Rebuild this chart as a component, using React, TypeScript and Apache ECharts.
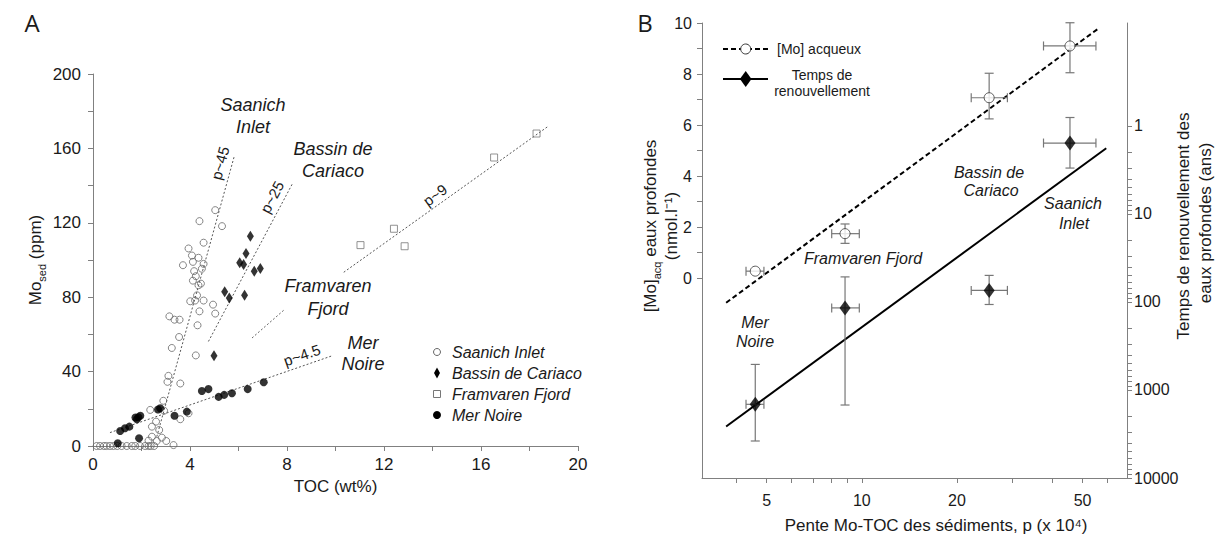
import React, { useEffect, useRef } from 'react';
import * as echarts from 'echarts';

// ---------------- Panel A data (TOC wt%, Mo ppm) ----------------
const saanich: [number, number][] = [
  [5.04, 126.8], [4.39, 120.9], [5.32, 118.2], [4.56, 109.3], [3.94, 106.2], [4.08, 102.4],
  [4.35, 101.2], [4.12, 99.0], [3.71, 97.2], [4.56, 97.9], [4.49, 95.3], [4.17, 94.0],
  [4.24, 91.3], [4.12, 88.9], [4.45, 87.3], [4.35, 86.4], [4.29, 81.0], [4.01, 77.8],
  [4.21, 78.2], [4.56, 78.2], [4.95, 76.0], [4.39, 72.4], [5.04, 71.2], [3.15, 69.7],
  [3.36, 67.9], [3.57, 67.9], [4.31, 64.9], [3.55, 58.6], [3.25, 52.7], [4.24, 48.7],
  [3.11, 37.7], [3.07, 34.5], [3.60, 33.6], [2.90, 24.3], [2.36, 19.4], [2.93, 19.0],
  [2.60, 13.1], [2.43, 10.4], [3.60, 14.4], [3.94, 17.6], [2.73, 8.6], [2.43, 5.0],
  [2.84, 4.5], [2.29, 2.9], [2.63, 2.7], [3.02, 2.7], [3.32, 0.5],
  [0.15, 0], [0.29, 0], [0.45, 0], [0.56, 0], [0.70, 0], [0.84, 0], [1.00, 0], [1.18, 0],
  [1.39, 0], [1.60, 0], [1.74, 0], [1.94, 0], [2.15, 0], [2.29, 0], [2.38, 0], [2.52, 0],
];
const cariaco: [number, number][] = [
  [6.49, 112.8], [6.31, 103.5], [6.05, 98.5], [6.21, 97.6], [6.65, 94.0], [6.90, 95.4],
  [5.43, 82.9], [5.62, 79.6], [6.25, 81.0], [4.99, 48.5],
];
const framvaren: [number, number][] = [
  [11.03, 108], [12.41, 116.8], [12.85, 107.4], [16.54, 155.1], [18.29, 168],
];
const merNoire: [number, number][] = [
  [7.04, 34.3], [6.38, 30.6], [5.73, 28.4], [5.41, 27.5], [5.18, 26.4], [4.76, 30.6],
  [4.49, 29.6], [3.87, 18.5], [3.36, 16.3], [2.77, 20.3], [2.68, 19.6], [1.95, 16.3],
  [1.87, 15.5], [1.81, 14.4], [1.75, 15.3], [1.50, 10.4], [1.32, 9.5], [1.12, 8.1],
  [1.90, 4.2], [1.02, 1.5],
];
const saanichFit: [number, number][] = [[2.63, 5], [5.83, 156]];
const cariacoFit: [number, number][] = [[4.76, 56.2], [8.21, 140.7]];
const framvarenFit: [number, number][] = [[10.34, 93.4], [18.75, 171.7]];
const merNoireFit: [number, number][] = [[0.7, 7.2], [9.86, 48.5]];

// ---------------- Panel B data ----------------
const slopeP = [4.6, 8.85, 25.3, 45.6];
const slopeLo = [4.3, 8.03, 22.2, 37.6];
const slopeHi = [4.9, 9.82, 28.9, 55.1];
const moAq = [0.27, 1.74, 7.07, 9.1];
const moAqLo = [0.27, 1.36, 6.24, 8.05];
const moAqHi = [0.27, 2.12, 8.03, 10.01];
const turnover = [1456, 117, 74, 1.57];
const turnoverLo = [513, 52, 50, 0.805];
const turnoverHi = [3800, 1483, 107, 3.02];
const moFit: [number, number][] = [[3.72, -0.97], [56.6, 9.82]];
const turnFit: [number, number][] = [[3.72, 2600], [59.4, 1.8]];

const xTicksB = [4, 5, 6, 7, 8, 9, 10, 20, 30, 40, 50, 60];
const xLabelsB = [5, 10, 20, 50];
const moTicks = [0, 1, 2, 3, 4, 5, 6, 7, 8, 9, 10];
const moLabels = [0, 2, 4, 6, 8, 10];
const turnDecades = [1, 10, 100, 1000];
const turnLabels = [1, 10, 100, 1000, 10000];

const FF = '"Liberation Sans", Arial, Helvetica, sans-serif';
const TXT = '#1a1a1a';
const AX = '#808080';
const lg = (v: number) => Math.log10(v);

function errRender(params: any, api: any) {
  const x = api.value(0), y = api.value(1);
  const xl = api.value(2), xh = api.value(3), yl = api.value(4), yh = api.value(5);
  const a = api.coord([xl, y]), b = api.coord([xh, y]);
  const t = api.coord([x, yl]), u = api.coord([x, yh]);
  const style = { stroke: '#777', lineWidth: 1.2, fill: 'none' };
  const cap = 4.5;
  const children: any[] = [
    { type: 'line', shape: { x1: a[0], y1: a[1], x2: b[0], y2: b[1] }, style },
    { type: 'line', shape: { x1: a[0], y1: a[1] - cap, x2: a[0], y2: a[1] + cap }, style },
    { type: 'line', shape: { x1: b[0], y1: b[1] - cap, x2: b[0], y2: b[1] + cap }, style },
  ];
  if (Math.abs(t[1] - u[1]) > 1) {
    children.push(
      { type: 'line', shape: { x1: t[0], y1: t[1], x2: u[0], y2: u[1] }, style },
      { type: 'line', shape: { x1: t[0] - cap, y1: t[1], x2: t[0] + cap, y2: t[1] }, style },
      { type: 'line', shape: { x1: u[0] - cap, y1: u[1], x2: u[0] + cap, y2: u[1] }, style },
    );
  }
  return { type: 'group', children };
}

function txt(text: string, x: number, y: number, size: number, opts: any = {}) {
  return {
    type: 'text', x, y, rotation: opts.rotation || 0,
    style: {
      text, fill: TXT, fontFamily: opts.family || FF, fontSize: size,
      fontStyle: opts.italic ? 'italic' : 'normal',
      align: opts.align || 'center', verticalAlign: 'middle',
      rich: opts.rich,
    },
  };
}

export default function App() {
  const ref = useRef<HTMLDivElement>(null);
  useEffect(() => {
    if (!ref.current) return;
    const chart = echarts.init(ref.current, undefined, { renderer: 'svg' });
    const deg = Math.PI / 180;
    const turnTicks = turnDecades.flatMap((d) => [1, 2, 3, 4, 5, 6, 7, 8, 9].map((k) => k * d)).concat([10000]);
    const axisCommon = {
      axisLine: { onZero: false, lineStyle: { color: AX, width: 1 } },
      axisTick: { length: 5, lineStyle: { color: AX } },
      splitLine: { show: false },
    };
    const fitStyle = { color: '#555', width: 1, type: [2, 2] };
    const fitLine = (data: [number, number][]) => ({
      type: 'line', xAxisIndex: 0, yAxisIndex: 0, data, symbol: 'none',
      lineStyle: fitStyle, silent: true, z: 1,
    });
    const subRich = {
      a: { fontSize: 17, color: TXT, fill: TXT, fontFamily: FF, lineHeight: 24 },
      b: { fontSize: 11, color: TXT, fill: TXT, fontFamily: FF, verticalAlign: 'bottom', lineHeight: 13 },
    };

    const option: any = {
      animation: false,
      backgroundColor: '#fff',
      grid: [
        { left: 93, top: 74, width: 485, height: 372 },
        { left: 702, top: 23, width: 425, height: 455 },
      ],
      xAxis: [
        {
          gridIndex: 0, type: 'value', min: 0, max: 20, interval: 2, ...axisCommon,
          axisLabel: { formatter: (v: number) => (v % 4 === 0 ? String(v) : ''), fontSize: 17, color: TXT, fontFamily: FF, margin: 10 },
          name: 'TOC (wt%)', nameLocation: 'middle', nameGap: 28,
          nameTextStyle: { fontSize: 17, color: TXT, fontFamily: FF },
        },
        {
          gridIndex: 1, type: 'value', min: lg(3.12), max: lg(69.1), ...axisCommon,
          axisTick: { length: 5, lineStyle: { color: AX }, customValues: xTicksB.map(lg) },
          axisLabel: {
            customValues: xLabelsB.map(lg), formatter: (v: number) => String(Math.round(Math.pow(10, v))),
            fontSize: 16, color: TXT, fontFamily: FF, margin: 14,
          },
        },
      ],
      yAxis: [
        {
          gridIndex: 0, type: 'value', min: 0, max: 200, interval: 20, ...axisCommon,
          axisLabel: { formatter: (v: number) => (v % 40 === 0 ? String(v) : ''), fontSize: 17, color: TXT, fontFamily: FF, margin: 12 },
          name: '{a|Mo}{b|sed}{a| (ppm)}', nameLocation: 'middle', nameGap: 46,
          nameTextStyle: { color: TXT, fontFamily: FF, fontSize: 17, rich: subRich },
        },
        {
          gridIndex: 1, type: 'value', min: -7.84, max: 10, position: 'left', ...axisCommon,
          axisTick: { length: 5, lineStyle: { color: AX }, customValues: moTicks },
          axisLabel: { customValues: moLabels, fontSize: 16, color: TXT, fontFamily: FF, margin: 10 },
        },
        {
          gridIndex: 1, type: 'value', min: lg(0.068), max: 4, inverse: true, position: 'right', ...axisCommon,
          axisTick: { length: 5, lineStyle: { color: AX }, customValues: turnTicks.map(lg) },
          axisLabel: {
            customValues: turnLabels.map(lg), formatter: (v: number) => String(Math.round(Math.pow(10, v))),
            fontSize: 16, color: TXT, fontFamily: FF, margin: 7,
          },
        },
      ],
      series: [
        fitLine(saanichFit), fitLine(cariacoFit), fitLine(framvarenFit), fitLine(merNoireFit),
        {
          name: 'Saanich Inlet', type: 'scatter', xAxisIndex: 0, yAxisIndex: 0, data: saanich,
          symbol: 'circle', symbolSize: 7, z: 3,
          itemStyle: { color: 'rgba(255,255,255,0)', borderColor: '#666', borderWidth: 1 },
        },
        {
          name: 'Bassin de Cariaco', type: 'scatter', xAxisIndex: 0, yAxisIndex: 0, data: cariaco,
          symbol: 'diamond', symbolSize: [7, 11], z: 4, itemStyle: { color: '#000' },
        },
        {
          name: 'Framvaren Fjord', type: 'scatter', xAxisIndex: 0, yAxisIndex: 0, data: framvaren,
          symbol: 'rect', symbolSize: 7, z: 4,
          itemStyle: { color: 'rgba(255,255,255,0)', borderColor: '#777', borderWidth: 1 },
        },
        {
          name: 'Mer Noire', type: 'scatter', xAxisIndex: 0, yAxisIndex: 0, data: merNoire,
          symbol: 'circle', symbolSize: 8, z: 4, itemStyle: { color: '#000' },
        },
        // Panel B
        {
          name: 'fitMo', type: 'line', xAxisIndex: 1, yAxisIndex: 1, symbol: 'none', silent: true, z: 1,
          data: moFit.map(([p, m]) => [lg(p), m]),
          lineStyle: { color: '#000', width: 2, type: [5, 3] },
        },
        {
          name: 'fitTurn', type: 'line', xAxisIndex: 1, yAxisIndex: 2, symbol: 'none', silent: true, z: 1,
          data: turnFit.map(([p, t]) => [lg(p), lg(t)]),
          lineStyle: { color: '#000', width: 2 },
        },
        {
          name: 'errMo', type: 'custom', xAxisIndex: 1, yAxisIndex: 1, renderItem: errRender, silent: true, z: 2, clip: false,
          encode: { x: [0, 2, 3], y: [1, 4, 5] },
          data: slopeP.map((p, i) => [lg(p), moAq[i], lg(slopeLo[i]), lg(slopeHi[i]), moAqLo[i], moAqHi[i]]),
        },
        {
          name: 'errTurn', type: 'custom', xAxisIndex: 1, yAxisIndex: 2, renderItem: errRender, silent: true, z: 2, clip: false,
          encode: { x: [0, 2, 3], y: [1, 4, 5] },
          data: slopeP.map((p, i) => [lg(p), lg(turnover[i]), lg(slopeLo[i]), lg(slopeHi[i]), lg(turnoverLo[i]), lg(turnoverHi[i])]),
        },
        {
          name: '[Mo] acqueux', type: 'scatter', xAxisIndex: 1, yAxisIndex: 1, symbol: 'circle', symbolSize: 10, z: 5,
          data: slopeP.map((p, i) => [lg(p), moAq[i]]),
          itemStyle: { color: '#fff', borderColor: '#333', borderWidth: 1 },
        },
        {
          name: 'Temps de renouvellement', type: 'scatter', xAxisIndex: 1, yAxisIndex: 2, symbol: 'diamond', symbolSize: [11, 15], z: 5,
          data: slopeP.map((p, i) => [lg(p), lg(turnover[i])]),
          itemStyle: { color: '#000' },
        },
      ],
      graphic: [
        txt('A', 32, 22, 24, { family: '"Open Sans", "Noto Sans", sans-serif' }),
        txt('B', 645, 22, 24, { family: '"Open Sans", "Noto Sans", sans-serif' }),
        // Panel A annotations
        txt('Saanich', 253, 105, 18, { italic: true }),
        txt('Inlet', 253, 127, 18, { italic: true }),
        txt('Bassin de', 333, 149, 18, { italic: true }),
        txt('Cariaco', 333, 171, 18, { italic: true }),
        txt('Framvaren', 328, 286, 18, { italic: true }),
        txt('Fjord', 328, 309, 18, { italic: true }),
        txt('Mer', 363, 343, 18, { italic: true }),
        txt('Noire', 363, 364, 18, { italic: true }),
        txt('p~45', 220, 163, 15, { rotation: 75 * deg }),
        txt('p~25', 272, 197, 15, { rotation: 62 * deg }),
        txt('p~9', 435, 195, 15, { rotation: 36 * deg }),
        txt('p~4.5', 302, 355, 15, { rotation: 19 * deg }),
        { type: 'line', shape: { x1: 252, y1: 338, x2: 284, y2: 310 }, style: { stroke: '#666', lineWidth: 1, lineDash: [2, 2] } },
        // Panel A legend
        { type: 'circle', shape: { cx: 437, cy: 352, r: 3.5 }, style: { fill: 'none', stroke: '#666', lineWidth: 1 } },
        { type: 'polygon', shape: { points: [[437, 367.5], [440, 373], [437, 378.5], [434, 373]] }, style: { fill: '#000' } },
        { type: 'rect', shape: { x: 433.5, y: 390.5, width: 7, height: 7 }, style: { fill: 'none', stroke: '#777', lineWidth: 1 } },
        { type: 'circle', shape: { cx: 437, cy: 415, r: 4 }, style: { fill: '#000' } },
        txt('Saanich Inlet', 452, 352, 16, { italic: true, align: 'left' }),
        txt('Bassin de Cariaco', 452, 373, 16, { italic: true, align: 'left' }),
        txt('Framvaren Fjord', 452, 394, 16, { italic: true, align: 'left' }),
        txt('Mer Noire', 452, 415, 16, { italic: true, align: 'left' }),
        // Panel B annotations
        txt('Mer', 755, 322, 16, { italic: true }),
        txt('Noire', 755, 341, 16, { italic: true }),
        txt('Framvaren Fjord', 863, 258, 16, { italic: true }),
        txt('Bassin de', 989, 172, 16, { italic: true }),
        txt('Cariaco', 991, 190, 16, { italic: true }),
        txt('Saanich', 1073, 203, 16, { italic: true }),
        txt('Inlet', 1074, 223, 16, { italic: true }),
        // Panel B legend
        { type: 'line', shape: { x1: 723, y1: 49, x2: 768, y2: 49 }, style: { stroke: '#000', lineWidth: 2, lineDash: [5, 3] } },
        { type: 'circle', shape: { cx: 745.7, cy: 49, r: 5 }, style: { fill: '#fff', stroke: '#333', lineWidth: 1 } },
        txt('[Mo] acqueux', 777, 49, 14, { align: 'left' }),
        { type: 'line', shape: { x1: 723, y1: 79, x2: 768, y2: 79 }, style: { stroke: '#000', lineWidth: 2 } },
        { type: 'polygon', shape: { points: [[745.7, 71], [751.5, 79], [745.7, 87], [739.9, 79]] }, style: { fill: '#000' } },
        txt('Temps de', 822, 75, 14),
        txt('renouvellement', 822, 91, 14),
        // Panel B axis titles
        txt('{a|[Mo]}{b|acq}{a| eaux profondes}', 650, 226, 17, { rotation: 90 * deg, rich: subRich }),
        txt('(nmol.l⁻¹)', 671, 226, 17, { rotation: 90 * deg }),
        txt('Temps de renouvellement des', 1183, 226, 17, { rotation: 90 * deg }),
        txt('eaux profondes (ans)', 1205, 223, 17, { rotation: 90 * deg }),
        txt('Pente Mo-TOC des sédiments, p (x 10⁴)', 936, 525, 17),
      ],
    };
    chart.setOption(option);
    return () => chart.dispose();
  }, []);
  return <div ref={ref} style={{ position: 'absolute', left: 0, top: 0, width: 1220, height: 537 }} />;
}
